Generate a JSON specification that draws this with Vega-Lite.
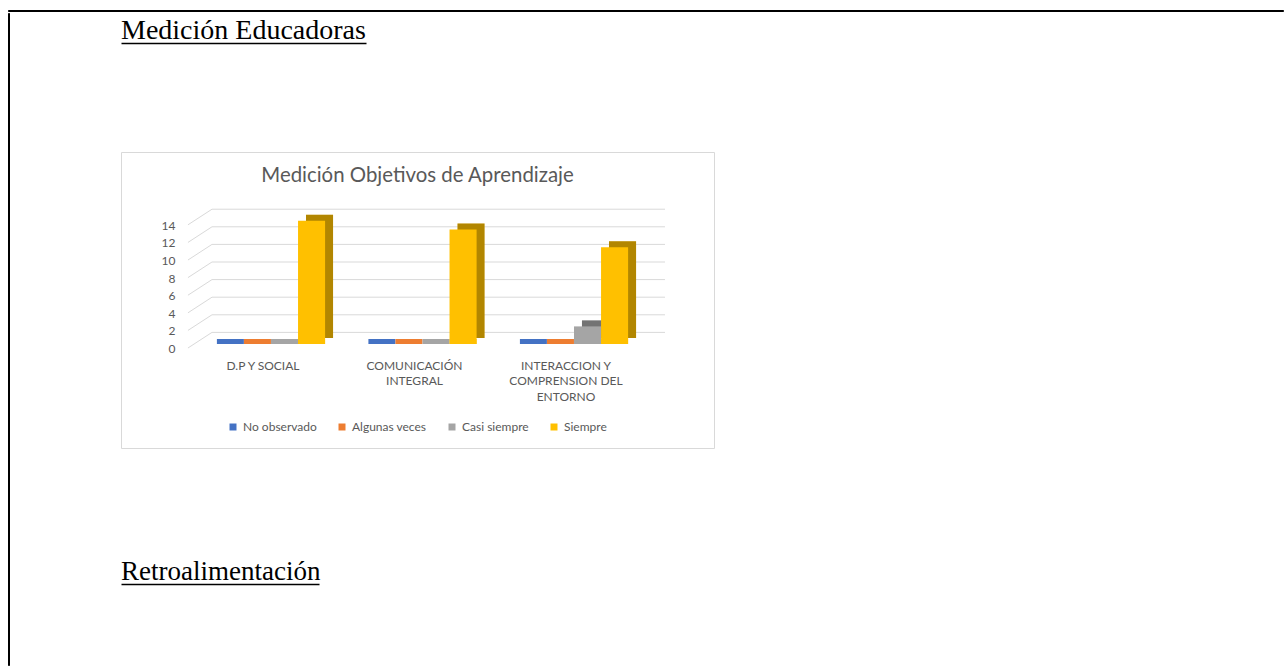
{
  "$schema": "https://vega.github.io/schema/vega-lite/v6.json",
  "background": "white",
  "padding": {"left": 7, "top": 9, "right": 0, "bottom": 0},
  "datasets": {
    "medicion": [
      {"Area": "D.P Y SOCIAL", "Nivel": "No observado", "Valor": 0},
      {"Area": "D.P Y SOCIAL", "Nivel": "Algunas veces", "Valor": 0},
      {"Area": "D.P Y SOCIAL", "Nivel": "Casi siempre", "Valor": 0},
      {"Area": "D.P Y SOCIAL", "Nivel": "Siempre", "Valor": 14},
      {"Area": "COMUNICACIÓN INTEGRAL", "Nivel": "No observado", "Valor": 0},
      {"Area": "COMUNICACIÓN INTEGRAL", "Nivel": "Algunas veces", "Valor": 0},
      {"Area": "COMUNICACIÓN INTEGRAL", "Nivel": "Casi siempre", "Valor": 0},
      {"Area": "COMUNICACIÓN INTEGRAL", "Nivel": "Siempre", "Valor": 13},
      {"Area": "INTERACCION Y COMPRENSION DEL ENTORNO", "Nivel": "No observado", "Valor": 0},
      {"Area": "INTERACCION Y COMPRENSION DEL ENTORNO", "Nivel": "Algunas veces", "Valor": 0},
      {"Area": "INTERACCION Y COMPRENSION DEL ENTORNO", "Nivel": "Casi siempre", "Valor": 2},
      {"Area": "INTERACCION Y COMPRENSION DEL ENTORNO", "Nivel": "Siempre", "Valor": 11}
    ],
    "grid": [{"g": 0}, {"g": 2}, {"g": 4}, {"g": 6}, {"g": 8}, {"g": 10}, {"g": 12}, {"g": 14}]
  },
  "spacing": 0,
  "vconcat": [
    {
      "width": 1275, "height": 1,
      "view": {"stroke": "black", "strokeWidth": 1, "fill": "black"},
      "data": {"values": []},
      "mark": "point",
      "encoding": {}
    },
    {
      "spacing": 110,
      "hconcat": [
        {
          "width": 1, "height": 652,
          "view": {"stroke": "black", "strokeWidth": 1, "fill": "black"},
          "data": {"values": []},
          "mark": "point",
          "encoding": {}
        },
        {
          "spacing": 106,
          "vconcat": [
            {
              "width": 245, "height": 26,
              "view": {"stroke": null},
              "data": {"values": [{"t": "Medición Educadoras"}]},
              "mark": {"type": "text", "font": "Liberation Serif", "fontSize": 28, "color": "black", "align": "left", "baseline": "alphabetic"},
              "encoding": {
                "text": {"field": "t"},
                "x": {"datum": 0, "type": "quantitative", "scale": {"domain": [0, 1]},
                      "axis": {"domain": true, "domainColor": "black", "domainWidth": 1.5, "ticks": false, "labels": false, "grid": false, "title": null, "offset": 4, "minExtent": 0, "maxExtent": 0}},
                "y": {"datum": 0, "type": "quantitative", "scale": {"domain": [0, 1]}, "axis": null}
              }
            },
            {
              "spacing": 103,
              "vconcat": [
                {
                  "width": 593, "height": 296,
                  "view": {"stroke": "#d9d9d9", "strokeWidth": 1, "fill": "white"},
                  "title": {"text": "Medición Objetivos de Aprendizaje", "font": "Lato", "fontSize": 20.4, "fontWeight": "normal", "color": "#595959", "anchor": "middle", "frame": "group", "offset": -50, "baseline": "alphabetic"},
                  "data": {"name": "medicion"},
                  "resolve": {"scale": {"xOffset": "independent"}},
                  "encoding": {
                    "x": {"field": "Area", "type": "nominal",
                          "scale": {"domain": ["D.P Y SOCIAL", "COMUNICACIÓN INTEGRAL", "INTERACCION Y COMPRENSION DEL ENTORNO"], "paddingInner": 0, "paddingOuter": 0.457, "align": 0.536},
                          "axis": {"orient": "bottom", "offset": -88, "domain": false, "ticks": false, "tickSize": 0, "labelPadding": 0, "labelAngle": 0, "labelFont": "Lato", "labelFontSize": 12, "labelColor": "#595959", "labelLineHeight": 15.5, "labelOffset": -8, "labelLimit": 0, "labelOverlap": false, "title": null,
                                   "labelExpr": "datum.value == 'COMUNICACIÓN INTEGRAL' ? ['COMUNICACIÓN', 'INTEGRAL'] : datum.value == 'INTERACCION Y COMPRENSION DEL ENTORNO' ? ['INTERACCION Y', 'COMPRENSION DEL', 'ENTORNO'] : datum.label"}},
                    "y": {"field": "Valor", "type": "quantitative",
                          "scale": {"domain": [-11.82, 21.82], "nice": false, "zero": false},
                          "axis": {"values": [0, 2, 4, 6, 8, 10, 12, 14], "orient": "left", "offset": -54, "domain": false, "ticks": false, "tickSize": 0, "grid": false, "labelPadding": 0, "labelOffset": 4.5, "labelFont": "Lato", "labelFontSize": 12, "labelColor": "#595959", "title": null}}
                  },
                  "layer": [
                    {
                      "data": {"name": "grid"},
                      "mark": {"type": "rule", "color": "#d9d9d9", "strokeWidth": 1, "xOffset": -59, "x2Offset": 91, "yOffset": -11.6},
                      "encoding": {
                        "x": {"datum": "D.P Y SOCIAL", "type": "nominal"},
                        "x2": {"datum": "INTERACCION Y COMPRENSION DEL ENTORNO"},
                        "y": {"field": "g", "type": "quantitative"}
                      }
                    },
                    {
                      "data": {"name": "grid"},
                      "mark": {"type": "rule", "color": "#d9d9d9", "strokeWidth": 1, "xOffset": -83, "x2Offset": -59, "yOffset": 4, "y2Offset": -11.6},
                      "encoding": {
                        "x": {"datum": "D.P Y SOCIAL", "type": "nominal"},
                        "x2": {"datum": "D.P Y SOCIAL"},
                        "y": {"field": "g", "type": "quantitative"},
                        "y2": {"field": "g"}
                      }
                    },
                    {
                      "mark": {"type": "bar", "yOffset": -6, "y2Offset": -6},
                      "encoding": {
                        "xOffset": {"field": "Nivel", "type": "nominal", "scale": {"domain": ["No observado", "Algunas veces", "Casi siempre", "Siempre"], "paddingInner": 0, "paddingOuter": 0.8, "align": 0.684}},
                        "color": {"field": "Nivel", "type": "nominal",
                                  "scale": {"domain": ["No observado", "Algunas veces", "Casi siempre", "Siempre"], "range": ["#4472C4", "#ED7D31", "#A5A5A5", "#FFC000"]},
                                  "legend": {"orient": "none", "legendX": 219, "legendY": 411, "direction": "horizontal", "columns": 4, "title": null, "symbolType": "square", "symbolSize": 49, "symbolStrokeWidth": 0, "symbolOpacity": 1, "labelFont": "Lato", "labelFontSize": 12, "labelColor": "#595959", "labelOffset": 4, "columnPadding": 19, "padding": 0}}
                      }
                    },
                    {
                      "mark": {"type": "bar", "color": "black", "opacity": 0.3, "yOffset": -6, "y2Offset": -6},
                      "encoding": {
                        "xOffset": {"field": "Nivel", "type": "nominal", "scale": {"domain": ["No observado", "Algunas veces", "Casi siempre", "Siempre"], "paddingInner": 0, "paddingOuter": 0.8, "align": 0.684}}
                      }
                    },
                    {
                      "mark": {"type": "bar"},
                      "encoding": {
                        "xOffset": {"field": "Nivel", "type": "nominal", "scale": {"domain": ["No observado", "Algunas veces", "Casi siempre", "Siempre"], "paddingInner": 0, "paddingOuter": 0.8, "align": 0.5}},
                        "color": {"field": "Nivel", "type": "nominal"}
                      }
                    },
                    {
                      "mark": {"type": "tick", "thickness": 5, "size": 27, "yOffset": -2.5, "opacity": 1},
                      "encoding": {
                        "xOffset": {"field": "Nivel", "type": "nominal", "scale": {"domain": ["No observado", "Algunas veces", "Casi siempre", "Siempre"], "paddingInner": 0, "paddingOuter": 0.8, "align": 0.5}},
                        "y": {"datum": 0, "type": "quantitative"},
                        "color": {"field": "Nivel", "type": "nominal"}
                      }
                    }
                  ]
                },
                {
                  "width": 198, "height": 28,
                  "view": {"stroke": null},
                  "data": {"values": [{"t": "Retroalimentación"}]},
                  "mark": {"type": "text", "font": "Liberation Serif", "fontSize": 27, "color": "black", "align": "left", "baseline": "alphabetic"},
                  "encoding": {
                    "text": {"field": "t"},
                    "x": {"datum": 0, "type": "quantitative", "scale": {"domain": [0, 1]},
                          "axis": {"domain": true, "domainColor": "black", "domainWidth": 1.5, "ticks": false, "labels": false, "grid": false, "title": null, "offset": 4, "minExtent": 0, "maxExtent": 0}},
                    "y": {"datum": 0, "type": "quantitative", "scale": {"domain": [0, 1]}, "axis": null}
                  }
                }
              ]
            }
          ]
        }
      ]
    }
  ]
}
